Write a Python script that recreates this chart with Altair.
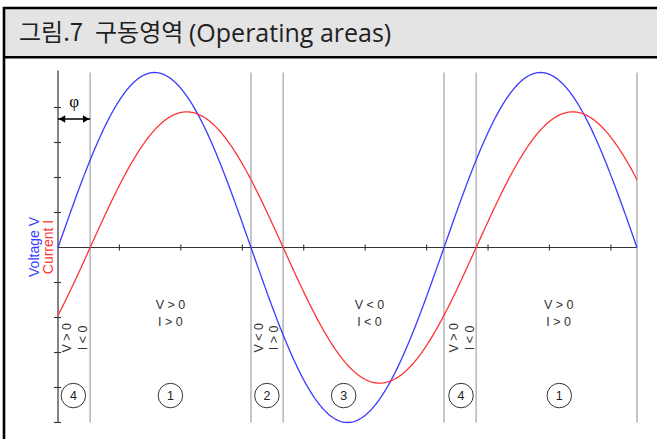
import math
import numpy as np
import pandas as pd
import altair as alt

# Waveforms: x in radians, amplitude relative to the voltage peak
SERIES = ["Voltage V", "Current I"]
COLORS = ["#3b3bff", "#ff3535"]
AMPLITUDE = [1.0, 0.775]
LAG = [0.0, math.pi / 6]          # current lags the voltage by phi
X_END = 3 * math.pi

PHI = LAG[1]
BOUNDARIES = [PHI, math.pi, math.pi + PHI, 2 * math.pi, 2 * math.pi + PHI, 3 * math.pi]

# Operating-area markers
REGION_NUMBERS = ["4", "1", "2", "3", "4", "1"]
REGION_NUMBER_X = [0.25, 1.83, 3.40, 4.65, 6.56, 8.16]
REGION_NUMBER_Y = -0.846

REGION_TEXT = ["V > 0\nI > 0", "V < 0\nI < 0", "V > 0\nI > 0"]
REGION_TEXT_X = [1.83, 5.07, 8.15]
REGION_TEXT_Y = -0.33

SIDE_TEXT = ["V > 0", "I < 0", "V < 0", "I > 0", "V > 0", "I < 0"]
SIDE_TEXT_X = [0.14, 0.40, 3.27, 3.51, 6.44, 6.71]
SIDE_TEXT_Y = -0.516

X_TICKS = [1, 2, 3, 4, 5, 6, 7, 8, 9]
Y_TICKS = [-1.0, -0.8, -0.6, -0.4, -0.2, 0.2, 0.4, 0.6, 0.8]

# heading pieces: text, left edge (px), font, size
TITLE_PARTS = ["그림.7", "구동영역", "(Operating areas)"]
TITLE_LEFT = [19, 95, 189]
TITLE_FONT = ["Noto Sans CJK KR", "Noto Sans CJK KR", "Open Sans"]
TITLE_SIZE = [24, 24, 25]

W, H = 657, 439
x_scale = alt.Scale(domain=[0, X_END], range=[58, 637])
y_scale = alt.Scale(domain=[-1, 1], range=[422.5, 72.5])

FONT = "Liberation Sans"
INK = "#333333"

# sampled curves
xs = np.linspace(0, X_END, 600)
curves = pd.concat(
    [
        pd.DataFrame({"x": xs, "y": a * np.sin(xs - lag), "series": s})
        for s, a, lag in zip(SERIES, AMPLITUDE, LAG)
    ],
    ignore_index=True,
)

X = lambda f: alt.X(f, type="quantitative", scale=x_scale, axis=None)
Y = lambda f: alt.Y(f, type="quantitative", scale=y_scale, axis=None)

one = pd.DataFrame({"k": [0]})

# title band with frame
title_bg = alt.Chart(one).mark_rect(fill="#e4e4e4").encode(
    x=alt.value(4), x2=alt.value(W + 5), y=alt.value(8), y2=alt.value(57)
)
frame_top = alt.Chart(one).mark_rule(color="black", strokeWidth=2.6).encode(
    x=alt.value(3), x2=alt.value(W + 5), y=alt.value(8)
)
frame_mid = alt.Chart(one).mark_rule(color="black", strokeWidth=2.6).encode(
    x=alt.value(3), x2=alt.value(W + 5), y=alt.value(57.3)
)
frame_left = alt.Chart(one).mark_rule(color="black", strokeWidth=2.6).encode(
    x=alt.value(4), y=alt.value(7), y2=alt.value(H + 5)
)
title_layers = [
    alt.Chart(pd.DataFrame({"t": [t]})).mark_text(
        font=f, fontSize=s, align="left", baseline="middle", color="#1f1f1f"
    ).encode(x=alt.value(x0), y=alt.value(33.5), text="t:N")
    for t, x0, f, s in zip(TITLE_PARTS, TITLE_LEFT, TITLE_FONT, TITLE_SIZE)
]

# boundaries between operating areas
bounds = alt.Chart(pd.DataFrame({"x": BOUNDARIES, "y": -1.0, "y2": 1.0})).mark_rule(
    color="#bdbdbd", strokeWidth=1.7
).encode(x=X("x"), y=Y("y"), y2="y2")

# axes drawn through the origin
x_axis = alt.Chart(pd.DataFrame({"x": [0.0], "x2": [X_END], "y": [0.0]})).mark_rule(
    color=INK, strokeWidth=1.2
).encode(x=X("x"), x2="x2", y=Y("y"))
y_axis = alt.Chart(pd.DataFrame({"x": [0.0], "y": [-1.0], "y2": [1.012]})).mark_rule(
    color=INK, strokeWidth=1.2
).encode(x=X("x"), y=Y("y"), y2="y2")
x_ticks = alt.Chart(pd.DataFrame({"x": X_TICKS, "y": 0.0})).mark_rule(
    color=INK, strokeWidth=1.1, yOffset=-3, y2Offset=3
).encode(x=X("x"), y=Y("y"), y2="y")
y_ticks = alt.Chart(pd.DataFrame({"x": 0.0, "y": Y_TICKS})).mark_rule(
    color=INK, strokeWidth=1.1, xOffset=-4, x2Offset=3
).encode(x=X("x"), x2="x", y=Y("y"))

lines = alt.Chart(curves).mark_line(strokeWidth=1.3).encode(
    x=X("x"),
    y=Y("y"),
    color=alt.Color("series:N", scale=alt.Scale(domain=SERIES, range=COLORS), legend=None),
    detail="series:N",
)

# axis titles, one per series
ytitle = alt.Chart(pd.DataFrame({"t": SERIES, "px": [34.5, 49], "c": COLORS})).mark_text(
    font=FONT, fontSize=14, angle=270, align="center", baseline="middle"
).encode(
    x=alt.X("px:Q", scale=None, axis=None),
    y=alt.value(247),
    text="t:N",
    color=alt.Color("c:N", scale=None),
)

# phase-shift arrow
phi_line = alt.Chart(pd.DataFrame({"x": [0.0], "x2": [PHI], "y": [0.734]})).mark_rule(
    color="black", strokeWidth=1.4
).encode(x=X("x"), x2="x2", y=Y("y"))
head_l = alt.Chart(pd.DataFrame({"x": [0.0], "y": [0.734]})).mark_point(
    shape="triangle-left", size=55, filled=True, color="black", opacity=1, xOffset=4
).encode(x=X("x"), y=Y("y"))
head_r = alt.Chart(pd.DataFrame({"x": [PHI], "y": [0.734]})).mark_point(
    shape="triangle-right", size=55, filled=True, color="black", opacity=1, xOffset=-4
).encode(x=X("x"), y=Y("y"))
phi_label = alt.Chart(pd.DataFrame({"x": [PHI / 2], "y": [0.83], "t": ["φ"]})).mark_text(
    font="Liberation Serif", fontSize=17, color="black", align="center", baseline="middle"
).encode(x=X("x"), y=Y("y"), text="t:N")

region_text = alt.Chart(pd.DataFrame({"x": REGION_TEXT_X, "y": REGION_TEXT_Y, "t": REGION_TEXT})).mark_text(
    font=FONT, fontSize=12.5, color=INK, align="center", baseline="middle", lineBreak="\n", lineHeight=16.5
).encode(x=X("x"), y=Y("y"), text="t:N")

side_text = alt.Chart(pd.DataFrame({"x": SIDE_TEXT_X, "y": SIDE_TEXT_Y, "t": SIDE_TEXT})).mark_text(
    font=FONT, fontSize=12.5, color=INK, angle=270, align="center", baseline="middle"
).encode(x=X("x"), y=Y("y"), text="t:N")

rings = alt.Chart(pd.DataFrame({"x": REGION_NUMBER_X, "y": REGION_NUMBER_Y})).mark_point(
    shape="circle", size=600, filled=False, color=INK, strokeWidth=1, opacity=1
).encode(x=X("x"), y=Y("y"))
ring_numbers = alt.Chart(
    pd.DataFrame({"x": REGION_NUMBER_X, "y": REGION_NUMBER_Y, "t": REGION_NUMBERS})
).mark_text(font=FONT, fontSize=12.5, color="#222222", align="center", baseline="middle").encode(
    x=X("x"), y=Y("y"), text="t:N"
)

chart = alt.layer(
    title_bg, frame_top, frame_mid, frame_left, *title_layers,
    bounds, x_axis, y_axis, x_ticks, y_ticks,
    lines, ytitle,
    phi_line, head_l, head_r, phi_label,
    region_text, side_text, rings, ring_numbers,
).properties(
    width=W, height=H, padding=0,
    autosize=alt.AutoSizeParams(type="none"),
    background="white",
).configure_view(stroke=None)

chart.save("out.html", embed_options={"renderer": "svg", "actions": False})
